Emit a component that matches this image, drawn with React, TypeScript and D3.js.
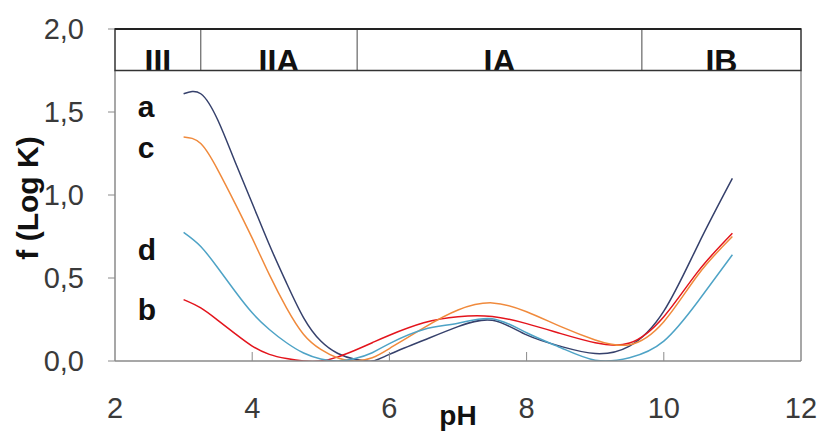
import React from 'react';
import * as d3 from 'd3';

// pH values shared by all curves
const phGrid = [3, 3.25, 3.5, 3.75, 4, 4.25, 4.5, 4.75, 5, 5.25, 5.5, 5.75, 6, 6.5, 7, 7.5, 8, 8.5, 9, 9.5, 10, 10.5, 11];

// f(Log K)
const curveA = [1.61, 1.61, 1.45, 1.2, 0.95, 0.7, 0.47, 0.26, 0.12, 0.045, 0.01, 0.0, 0.04, 0.125, 0.207, 0.245, 0.157, 0.088, 0.045, 0.09, 0.3, 0.7, 1.1];
const curveB = [0.37, 0.32, 0.245, 0.165, 0.09, 0.04, 0.015, 0.0, 0.0, 0.025, 0.065, 0.11, 0.155, 0.23, 0.267, 0.268, 0.225, 0.165, 0.11, 0.108, 0.267, 0.54, 0.77];
const curveC = [1.35, 1.31, 1.15, 0.95, 0.74, 0.52, 0.32, 0.16, 0.07, 0.018, 0.0, 0.02, 0.075, 0.2, 0.307, 0.35, 0.297, 0.207, 0.127, 0.098, 0.237, 0.52, 0.75];
const curveD = [0.775, 0.69, 0.56, 0.42, 0.29, 0.19, 0.11, 0.048, 0.012, 0.0, 0.015, 0.05, 0.105, 0.19, 0.227, 0.255, 0.17, 0.08, 0.005, 0.02, 0.12, 0.36, 0.64];

const seriesNames = ['a', 'b', 'c', 'd'];
const seriesColors = ['#36416c', '#e3141c', '#f08a3c', '#4ea3c6'];
// where the letter of each curve sits (pH, f)
const labelPh = 2.33;
const labelValues = [1.47, 0.25, 1.22, 0.61];

// zones along the top
const zoneNames = ['III', 'IIA', 'IA', 'IB'];
const zoneEdges = [2, 3.25, 5.53, 9.68, 12];
const zoneBottom = 1.75;

const xTicks = [2, 4, 6, 8, 10, 12];
const yTicks = [0, 0.5, 1.0, 1.5, 2.0];

const W = 822;
const H = 431;
const margin = { top: 29, right: 21, bottom: 70, left: 115 };

export default function App() {
  const x = d3.scaleLinear().domain([2, 12]).range([margin.left, W - margin.right]);
  const y = d3.scaleLinear().domain([0, 2]).range([H - margin.bottom, margin.top]);

  const allCurves = [curveA, curveB, curveC, curveD];
  const line = d3
    .line<[number, number]>()
    .x(d => x(d[0]))
    .y(d => y(d[1]))
    .curve(d3.curveNatural);

  const font = 'Arial, "Liberation Sans", sans-serif';
  const axisGrey = '#8a8a8a';
  const x0 = x(2), x1 = x(12), yb = y(0), yt = y(2), yz = y(zoneBottom);

  return (
    <svg width={W} height={H} style={{ position: 'absolute', left: 0, top: 0, background: '#fff' }} fontFamily={font}>
      <defs>
        <clipPath id="plot">
          <rect x={x0} y={yz} width={x1 - x0} height={yb - yz} />
        </clipPath>
        <clipPath id="zone">
          <rect x={x0} y={yt} width={x1 - x0} height={yz - yt} />
        </clipPath>
      </defs>

      {/* curves */}
      <g clipPath="url(#plot)">
        {allCurves.map((vals, i) => (
          <path
            key={seriesNames[i]}
            d={line(phGrid.map((p, j) => [p, vals[j]] as [number, number])) || ''}
            fill="none"
            stroke={seriesColors[i]}
            strokeWidth={1.5}
          />
        ))}
      </g>

      {/* plot frame */}
      <line x1={x0} x2={x1} y1={yb} y2={yb} stroke={axisGrey} strokeWidth={1.5} />
      <line x1={x0} x2={x0} y1={yz} y2={yb} stroke={axisGrey} strokeWidth={1.5} />
      <line x1={x1} x2={x1} y1={yz} y2={yb} stroke={axisGrey} strokeWidth={1.5} />

      {/* x ticks (inward) */}
      {xTicks.slice(1, -1).map(t => (
        <line key={'xt' + t} x1={x(t)} x2={x(t)} y1={yb} y2={yb - 9} stroke={axisGrey} strokeWidth={1} />
      ))}
      {xTicks.map(t => (
        <text key={'xl' + t} x={x(t)} y={yb + 57} textAnchor="middle" fontSize={29} fill="#3a3a3a">
          {t}
        </text>
      ))}

      {/* y ticks (outward) */}
      {yTicks.map(t => (
        <line key={'yt' + t} x1={x0 - 7} x2={x0} y1={y(t)} y2={y(t)} stroke={axisGrey} strokeWidth={1} />
      ))}
      {yTicks.map(t => (
        <text key={'yl' + t} x={x0 - 31} y={y(t) + 10} textAnchor="end" fontSize={29} fill="#3a3a3a">
          {d3.format('.1f')(t).replace('.', ',')}
        </text>
      ))}

      {/* zone band */}
      <g clipPath="url(#zone)">
        {zoneNames.map((z, i) => (
          <text
            key={z}
            x={(x(zoneEdges[i]) + x(zoneEdges[i + 1])) / 2}
            y={yz + 1}
            textAnchor="middle"
            fontSize={32}
            fontWeight="bold"
            fill="#111"
          >
            {z}
          </text>
        ))}
      </g>
      {zoneEdges.slice(1, -1).map(e => (
        <line key={'ze' + e} x1={x(e)} x2={x(e)} y1={yt} y2={yz} stroke="#666" strokeWidth={1.2} />
      ))}
      <rect x={x0} y={yt} width={x1 - x0} height={yz - yt} fill="none" stroke="#333" strokeWidth={1.5} />
      <line x1={x0} x2={x1} y1={yt} y2={yt} stroke="#222" strokeWidth={2.2} />

      {/* curve letters */}
      {seriesNames.map((n, i) => (
        <text key={'lab' + n} x={x(labelPh)} y={y(labelValues[i])} fontSize={30} fontWeight="bold" fill="#111">
          {n}
        </text>
      ))}

      {/* axis titles */}
      <text x={x(7)} y={H - 6} textAnchor="middle" fontSize={28} fontWeight="bold" fill="#111">
        pH
      </text>
      <text
        transform={`translate(38, ${(yt + yb) / 2 + 3}) rotate(-90)`}
        textAnchor="middle"
        fontSize={30}
        fontWeight="bold"
        fill="#111"
      >
        f (Log K)
      </text>
    </svg>
  );
}
